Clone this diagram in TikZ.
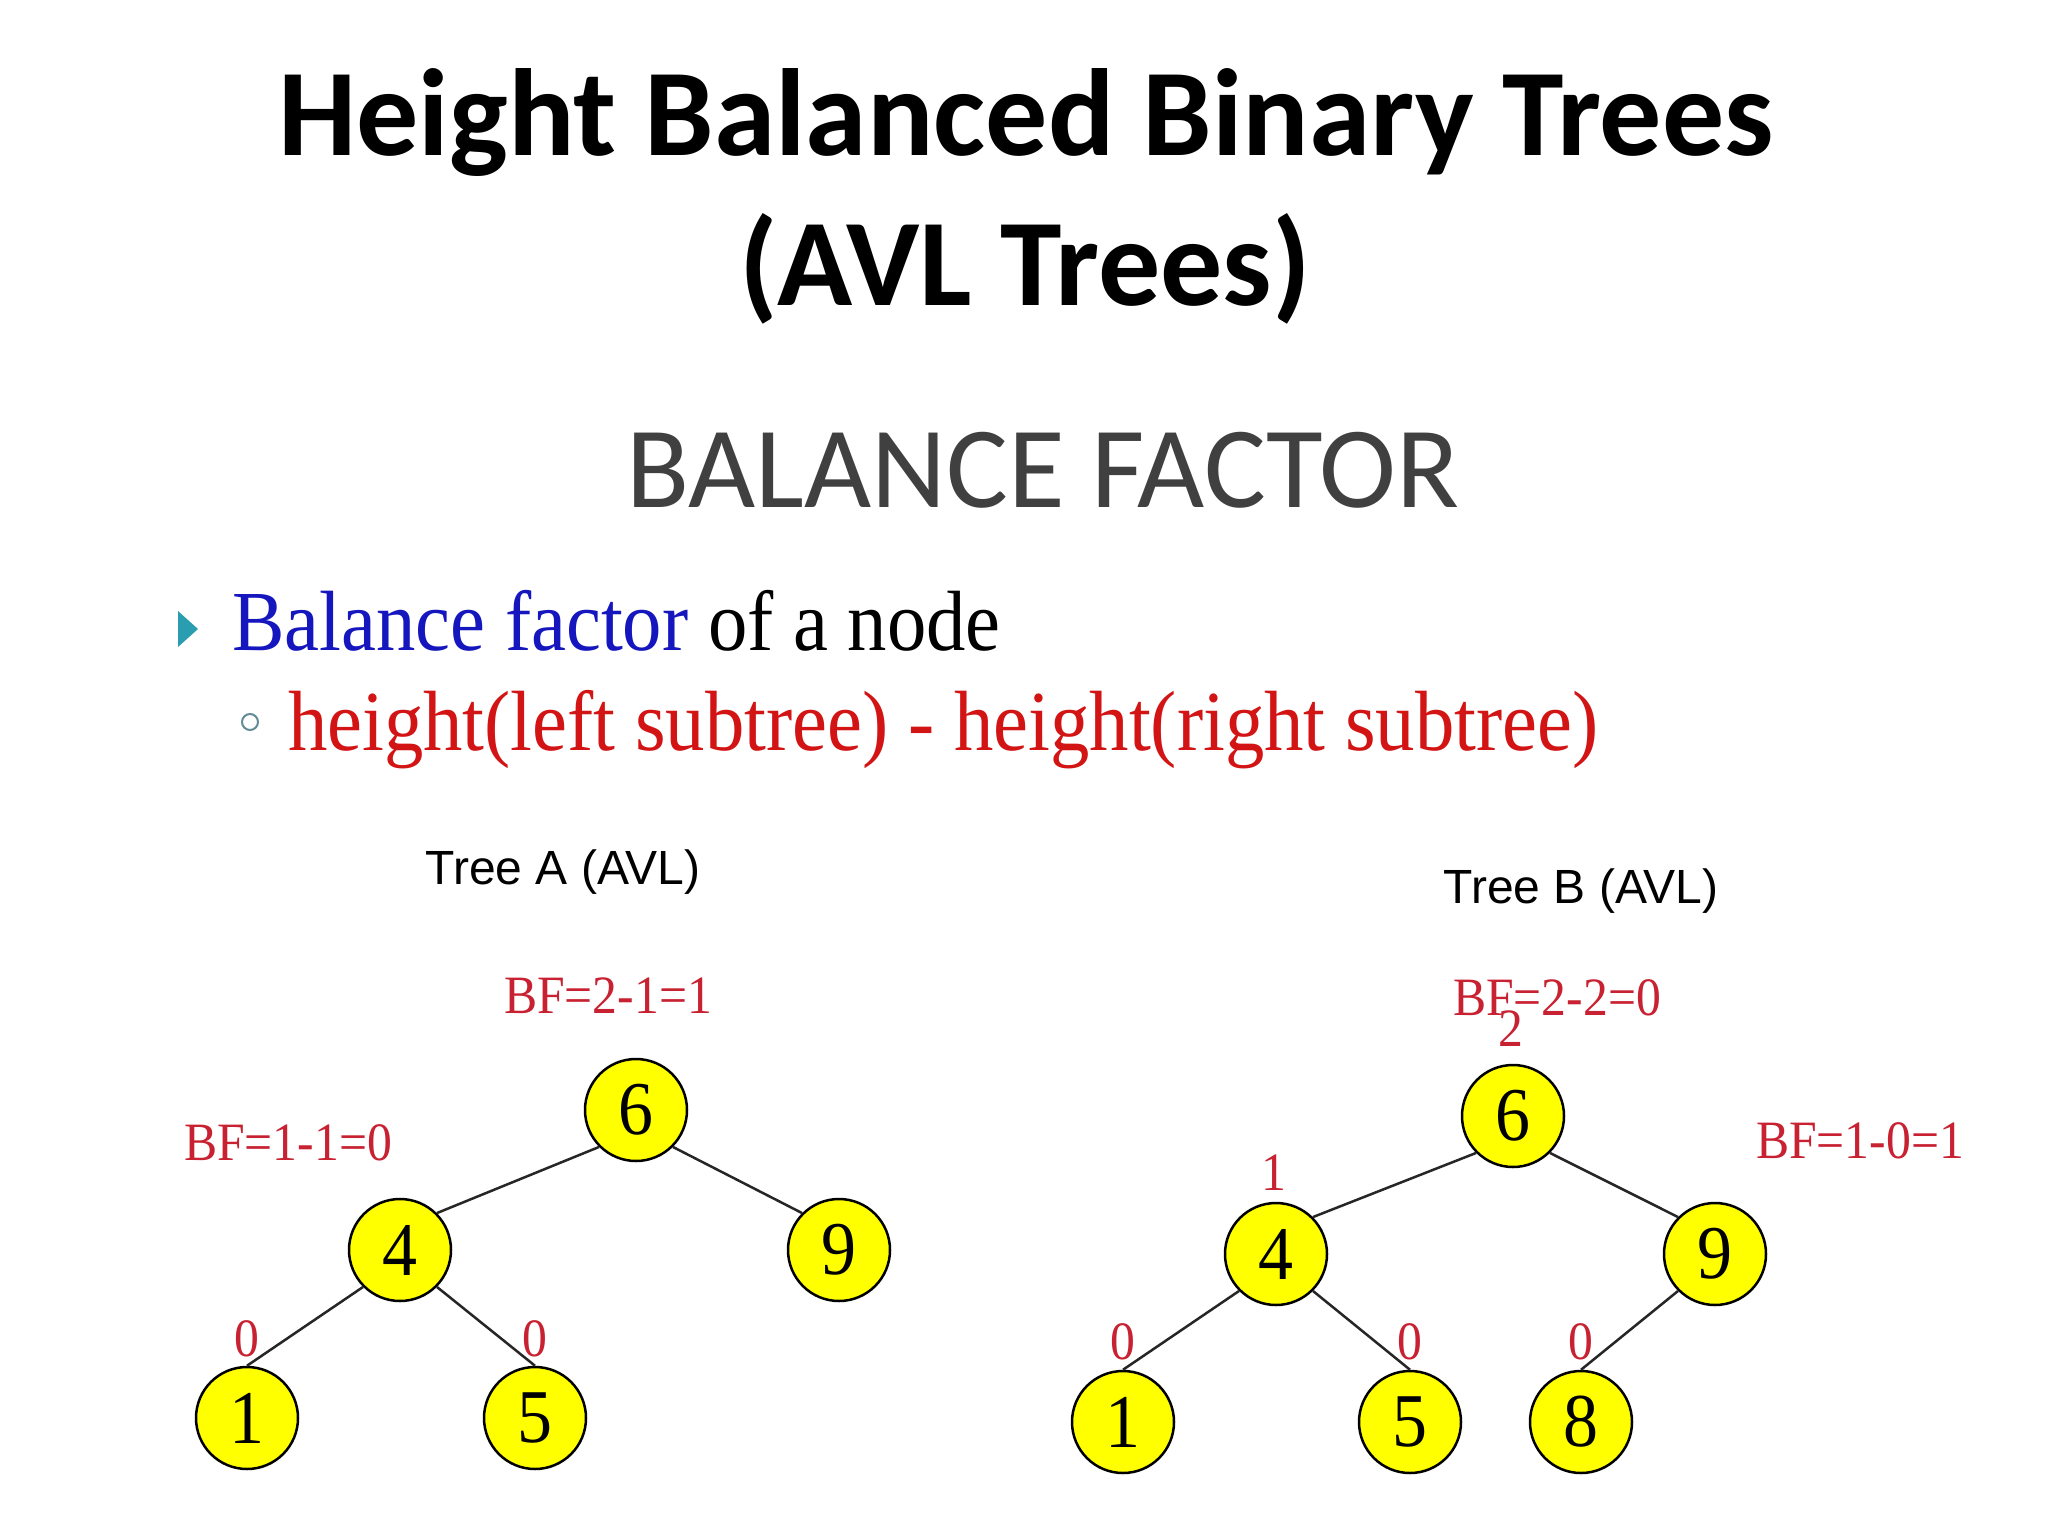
\documentclass[tikz,border=0pt]{standalone}
\usepackage{fontspec}
\setmainfont{Liberation Serif}
\newfontfamily\calibri{Carlito}
\newfontfamily\tnr[FakeStretch=0.92]{Liberation Serif}
\newfontfamily\arial{Liberation Sans}
\definecolor{titlegray}{RGB}{64,64,64}
\definecolor{bfblue}{RGB}{22,22,190}
\definecolor{hred}{RGB}{210,20,20}
\definecolor{bfred}{RGB}{200,34,50}
\definecolor{bullteal}{RGB}{42,157,176}
\definecolor{bullgray}{RGB}{100,140,150}
\definecolor{nodeyellow}{RGB}{255,255,0}
\begin{document}
\begin{tikzpicture}[x=1pt,y=-1pt,
  txt/.style={inner sep=0pt, outer sep=0pt},
  avl/.style={circle, draw=black, line width=2.5pt, fill=nodeyellow, minimum size=102pt, inner sep=0pt,
              font=\fontsize{76}{80}\selectfont\tnr},
  bf/.style={txt, anchor=base, text=bfred, font=\fontsize{54}{60}\selectfont\tnr},
  edge/.style={line width=2.5pt, draw=black!85},
  treelbl/.style={txt, anchor=base, font=\fontsize{48}{56}\selectfont\arial}]
\useasboundingbox (0,0) rectangle (2048,1536);
\fill[white] (0,0) rectangle (2048,1536);

% titles
\node[txt, anchor=base, font=\fontsize{124}{148}\selectfont\calibri\bfseries] (t1) at (1026,156) {Height Balanced Binary Trees};
\node[txt, anchor=base, font=\fontsize{124}{148}\selectfont\calibri\bfseries] (t2) at (1025,305) {(AVL Trees)};
\node[txt, anchor=base, text=titlegray, font=\fontsize{116}{130}\selectfont\calibri] (t3) at (1043,507) {BALANCE FACTOR};

% bullets
\fill[bullteal] (178,611) -- (178,647) -- (198,629) -- cycle;
\node[txt, anchor=base west, font=\fontsize{85.5}{100}\selectfont\tnr] (b1) at (232,650) {\textcolor{bfblue}{Balance factor} of a node};
\draw[bullgray, line width=2pt] (250,722) circle (8);
\node[txt, anchor=base west, text=hred, font=\fontsize{85.5}{100}\selectfont\tnr] (b2) at (288,750) {height(left subtree) - height(right subtree)};

% tree labels
\node[treelbl] (la) at (563,884) {Tree A (AVL)};
\node[treelbl] (lb) at (1581,903) {Tree B (AVL)};

% Tree A
\node[avl] (a6) at (636,1110) {6};
\node[avl] (a4) at (400,1250) {4};
\node[avl] (a9) at (839,1250) {9};
\node[avl] (a1) at (247,1418) {1};
\node[avl] (a5) at (535,1418) {5};
\draw[edge] (a6.south west) -- (a4.north east);
\draw[edge] (a6.south east) -- (a9.north west);
\draw[edge] (a4.south west) -- (a1.north);
\draw[edge] (a4.south east) -- (a5.north);
\node[bf] (bfa6) at (608,1013) {BF=2-1=1};
\node[bf] (bfa4) at (288,1160) {BF=1-1=0};
\node[bf] (ha1) at (247,1356) {0};
\node[bf] (ha5) at (535,1356) {0};

% Tree B
\node[avl] (b6) at (1513,1116) {6};
\node[avl] (b4) at (1276,1254) {4};
\node[avl] (b9) at (1715,1254) {9};
\node[avl] (b1n) at (1123,1422) {1};
\node[avl] (b5) at (1410,1422) {5};
\node[avl] (b8) at (1581,1422) {8};
\draw[edge] (b6.south west) -- (b4.north east);
\draw[edge] (b6.south east) -- (b9.north west);
\draw[edge] (b4.south west) -- (b1n.north);
\draw[edge] (b4.south east) -- (b5.north);
\draw[edge] (b9.south west) -- (b8.north);
\node[bf] (bfb6) at (1557,1015) {BF=2-2=0};
\node[bf] (hb6) at (1511,1046) {2};
\node[bf] (bfb9) at (1860,1158) {BF=1-0=1};
\node[bf] (hb4) at (1274,1190) {1};
\node[bf] (hb1) at (1123,1359) {0};
\node[bf] (hb5) at (1410,1359) {0};
\node[bf] (hb8) at (1581,1359) {0};
\end{tikzpicture}
\end{document}
